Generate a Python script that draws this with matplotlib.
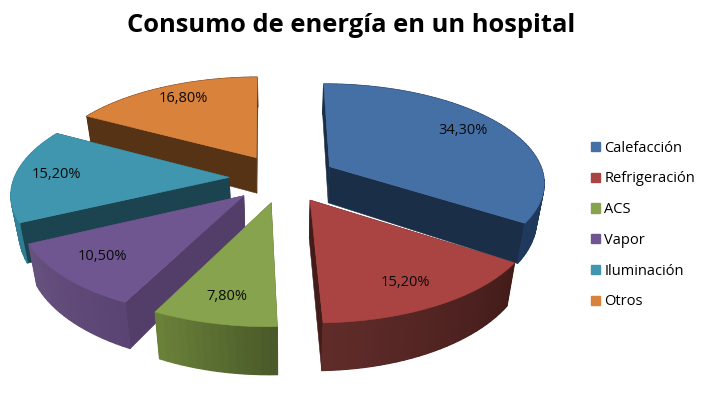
import numpy as np
import matplotlib
matplotlib.use('Agg')
import matplotlib.pyplot as plt
from matplotlib.patches import Patch
#--------------------------------------------------------------------------------------------------------#
# Data
#--------------------------------------------------------------------------------------------------------#
title = 'Consumo de energía en un hospital'
categories = ['Calefacción', 'Refrigeración', 'ACS', 'Vapor', 'Iluminación', 'Otros']
values = [34.3, 15.2, 7.8, 10.5, 15.2, 16.8]
#--------------------------------------------------------------------------------------------------------#
# Styles
#--------------------------------------------------------------------------------------------------------#
top_cols = ['#4570a5', '#a94442', '#87a34e', '#705690', '#4096ae', '#d9823b']
radial_cols = ['#1b2e47', '#431c1a', '#4f6030', '#523e68', '#1b4350', '#573315']
arc_cols = [('#1b2e47', '#1f3a5e'), ('#431c1a', '#602c2a'), ('#4a5a2a', '#6a8139'),
            ('#5a4473', '#67517f'), ('#2f7c91', '#3a8da5'), ('#573315', '#573315')]
draw_order = [5, 0, 4, 1, 3, 2]
label_px = [(463, 130), (405, 283), (227, 297), (102, 257), (56, 174), (183, 98)]

# projection of the exploded pie, in pixels
cx, cy = 283, 178
sx, sy = 215, 97.8
persp = 0.146
wall = 37
wall_w = 0.03
explode = 0.25

def project(x, y, bottom=False):
    w = 1 + persp*y
    h = wall/w**1.3 if bottom else 0
    px = cx + sx*x/(w + (wall_w if bottom else 0))
    py = cy - sy*y/w + h
    return px, py

fig = plt.figure(figsize=(7.05, 3.96), dpi=100)
ax = fig.add_axes([0, 0, 1, 1])
ax.set_xlim(0, 705)
ax.set_ylim(396, 0)
ax.axis('off')

# angles clockwise from 12 o'clock
edges = np.radians(np.cumsum([0] + values)*3.6)

for i in draw_order:
    a0, a1 = edges[i], edges[i+1]
    mid = (a0 + a1)/2
    ox, oy = explode*np.sin(mid), explode*np.cos(mid)
    th = np.linspace(a0, a1, int(np.degrees(a1 - a0)/2) + 2)
    rx, ry = ox + np.sin(th), oy + np.cos(th)
    # cut faces
    for a in (a0, a1):
        ex, ey = ox + np.sin(a), oy + np.cos(a)
        pts = [project(ox, oy), project(ex, ey), project(ex, ey, True), project(ox, oy, True)]
        ax.fill(*zip(*pts), color=radial_cols[i], lw=0.4)
    # outer wall, one base shape then shaded along the arc
    c0 = np.array(matplotlib.colors.to_rgb(arc_cols[i][0]))
    c1 = np.array(matplotlib.colors.to_rgb(arc_cols[i][1]))
    bx, by = project(rx[::-1], ry[::-1], True)
    ux, uy = project(rx, ry)
    ax.fill(np.r_[ux, bx], np.r_[uy, by], color=(c0 + c1)/2, lw=0)
    for j in range(len(th) - 1):
        f = j/max(len(th) - 2, 1)
        pts = [project(rx[j], ry[j]), project(rx[j+1], ry[j+1]),
               project(rx[j+1], ry[j+1], True), project(rx[j], ry[j], True)]
        ax.fill(*zip(*pts), color=c0*(1 - f) + c1*f, lw=0.9)
    # top face
    tx, ty = project(np.r_[ox, rx], np.r_[oy, ry])
    ax.fill(tx, ty, color=top_cols[i], lw=0.4)
    ax.text(label_px[i][0], label_px[i][1], f'{values[i]:.2f}%'.replace('.', ','),
            ha='center', va='center', fontsize=10.5, family='Open Sans', color='#0a0a0a')

ax.text(351, 25, title, ha='center', va='center', fontsize=18.35, fontweight='bold',
        family='Open Sans', color='black')

handles = [Patch(color=c) for c in top_cols]
ax.legend(handles, categories, loc='center left', bbox_to_anchor=(591/705, 1 - 225/396),
          frameon=False, handlelength=0.62, handleheight=0.62, handletextpad=0.3,
          labelspacing=1.08, borderpad=0, borderaxespad=0,
          prop={'family': 'Open Sans', 'size': 10.5})

fig.savefig('out.png', dpi=100)
